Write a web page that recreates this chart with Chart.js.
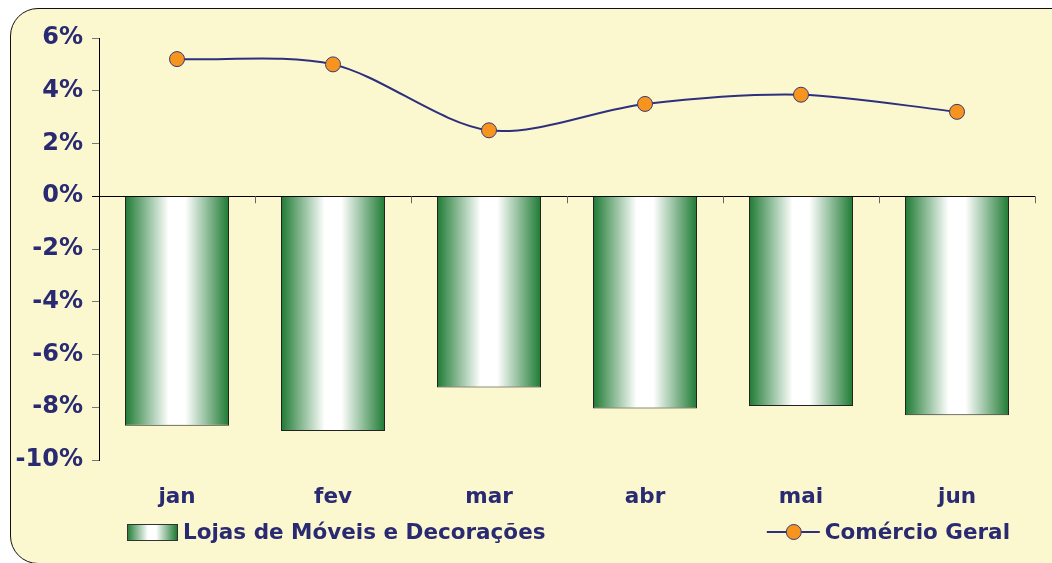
<!DOCTYPE html>
<html lang="pt-br">
<head>
<meta charset="UTF-8">
<title>Lojas de Móveis e Decorações x Comércio Geral</title>
<script src="https://cdn.jsdelivr.net/npm/chart.js@4/dist/chart.umd.min.js"></script>
<style>
    body { margin: 0; background: #fff; overflow: hidden; width: 1052px; height: 563px; position: relative; }
    .moldura {
        position: absolute; left: 10px; top: 8px; width: 1080px; height: 554px;
        border: 1.5px solid #111; border-radius: 28px; background: #FBF7CF;
    }
    #grafico { position: absolute; left: 0; top: 0; }
</style>
</head>
<body>
<div class="moldura"></div>
<canvas id="grafico" width="1052" height="563"></canvas>

<script>
    // dados (variação %)
    const meses = ['jan', 'fev', 'mar', 'abr', 'mai', 'jun'];
    const lojasMoveis = [-8.7, -8.9, -7.25, -8.05, -7.95, -8.3];
    const comercioGeral = [5.2, 5.0, 2.5, 3.5, 3.85, 3.2];
    const ticksY = [-10, -8, -6, -4, -2, 0, 2, 4, 6];

    const corTexto = '#292A72';
    const verde = '#1E7A33';
    const fonte = 'DejaVu Sans, Verdana, sans-serif';

    function gradienteBarra(ctx, x0, x1) {
        const g = ctx.createLinearGradient(x0, 0, x1, 0);
        g.addColorStop(0, verde);
        g.addColorStop(0.42, '#FFFFFF');
        g.addColorStop(0.58, '#FFFFFF');
        g.addColorStop(1, verde);
        return g;
    }

    // cor de cada barra: degradê horizontal verde-branco-verde
    function corBarra(context) {
        const chart = context.chart;
        const escala = chart.scales.x;
        if (!escala || context.dataIndex === undefined) return verde;
        const largCat = escala.width / meses.length;
        const meia = largCat * 0.667 / 2;
        const cx = escala.getPixelForValue(context.dataIndex);
        if (!isFinite(cx) || !isFinite(meia) || meia <= 0) return verde;
        return gradienteBarra(chart.ctx, cx - meia, cx + meia);
    }

    // pequenos traços entre as categorias, sobre a linha do zero
    const tracosCategoria = {
        id: 'tracosCategoria',
        beforeDatasetsDraw(chart) {
            const ctx = chart.ctx;
            const x = chart.scales.x;
            const y0 = chart.scales.y.getPixelForValue(0);
            const passo = x.width / meses.length;
            ctx.save();
            ctx.strokeStyle = '#666';
            ctx.lineWidth = 1;
            for (let i = 1; i <= meses.length; i++) {
                const px = Math.round(x.left + passo * i) + 0.5;
                ctx.beginPath();
                ctx.moveTo(px, y0);
                ctx.lineTo(px, y0 + 7);
                ctx.stroke();
            }
            ctx.restore();
        }
    };

    // legenda: barra à esquerda, linha à direita
    const legendaPropria = {
        id: 'legendaPropria',
        afterDraw(chart) {
            const ctx = chart.ctx;
            const area = chart.chartArea;
            const ds = chart.data.datasets;
            const yMeio = 532;
            ctx.save();
            ctx.font = 'bold 21.5px ' + fonte;
            ctx.fillStyle = corTexto;
            ctx.textBaseline = 'middle';

            // item 1 - barras
            const x1 = area.left + 28;
            ctx.fillStyle = gradienteBarra(ctx, x1, x1 + 50);
            ctx.fillRect(x1, yMeio - 8, 50, 17);
            ctx.strokeStyle = '#333';
            ctx.lineWidth = 1;
            ctx.strokeRect(x1 + 0.5, yMeio - 7.5, 50, 16);
            ctx.fillStyle = corTexto;
            ctx.fillText(ds[1].label, x1 + 56, yMeio + 1);

            // item 2 - linha
            const larguraTxt = ctx.measureText(ds[0].label).width;
            const fimTxt = area.right - 25;
            const iniTxt = fimTxt - larguraTxt;
            const xl0 = iniTxt - 58;
            ctx.strokeStyle = '#2E2F7D';
            ctx.lineWidth = 2;
            ctx.beginPath();
            ctx.moveTo(xl0, yMeio);
            ctx.lineTo(iniTxt - 5, yMeio);
            ctx.stroke();
            ctx.beginPath();
            ctx.arc(xl0 + 27, yMeio, 7.5, 0, Math.PI * 2);
            ctx.fillStyle = '#F7941D';
            ctx.fill();
            ctx.lineWidth = 1;
            ctx.strokeStyle = '#3A3A7A';
            ctx.stroke();
            ctx.fillStyle = corTexto;
            ctx.fillText(ds[0].label, iniTxt, yMeio + 1);
            ctx.restore();
        }
    };

    const ctx = document.getElementById('grafico').getContext('2d');
    const grafico = new Chart(ctx, {
        type: 'bar',
        data: {
            labels: meses,
            datasets: [
                {
                    type: 'line',
                    label: 'Comércio Geral',
                    data: comercioGeral,
                    borderColor: '#2E2F7D',
                    borderWidth: 2,
                    tension: 0.3,
                    pointRadius: 7.5,
                    pointBackgroundColor: '#F7941D',
                    pointBorderColor: '#3A3A7A',
                    pointBorderWidth: 1,
                    order: 0
                },
                {
                    type: 'bar',
                    label: 'Lojas de Móveis e Decorações',
                    data: lojasMoveis,
                    backgroundColor: corBarra,
                    borderColor: '#222',
                    borderWidth: 1,
                    categoryPercentage: 1,
                    barPercentage: 0.667,
                    order: 1
                }
            ]
        },
        options: {
            responsive: false,
            devicePixelRatio: 1,
            animation: false,
            layout: { padding: { top: 38, right: 17, bottom: 0, left: 0 } },
            plugins: {
                legend: { display: false },
                tooltip: { enabled: false }
            },
            scales: {
                x: {
                    offset: true,
                    grid: { display: false, drawTicks: false },
                    border: { display: false },
                    ticks: {
                        padding: 25,
                        color: corTexto,
                        font: { family: fonte, size: 21.5, weight: 'bold' }
                    },
                    afterFit(axis) { axis.height = 103; }
                },
                y: {
                    min: -10,
                    max: 6,
                    afterBuildTicks(axis) {
                        axis.ticks = ticksY.map(v => ({ value: v }));
                    },
                    border: { display: true, color: '#000', width: 1 },
                    grid: {
                        drawOnChartArea: true,
                        color: c => (c.tick && c.tick.value === 0) ? '#000' : 'rgba(0,0,0,0)',
                        tickColor: c => (c.tick && c.tick.value === 0) ? '#000' : '#777',
                        tickLength: 7,
                        lineWidth: 1
                    },
                    ticks: {
                        padding: 9,
                        color: corTexto,
                        font: { family: fonte, size: 24, weight: 'bold' },
                        callback: v => v + '%'
                    },
                    afterFit(axis) { axis.width = 99; }
                }
            }
        },
        plugins: [tracosCategoria, legendaPropria]
    });
</script>
</body>
</html>
